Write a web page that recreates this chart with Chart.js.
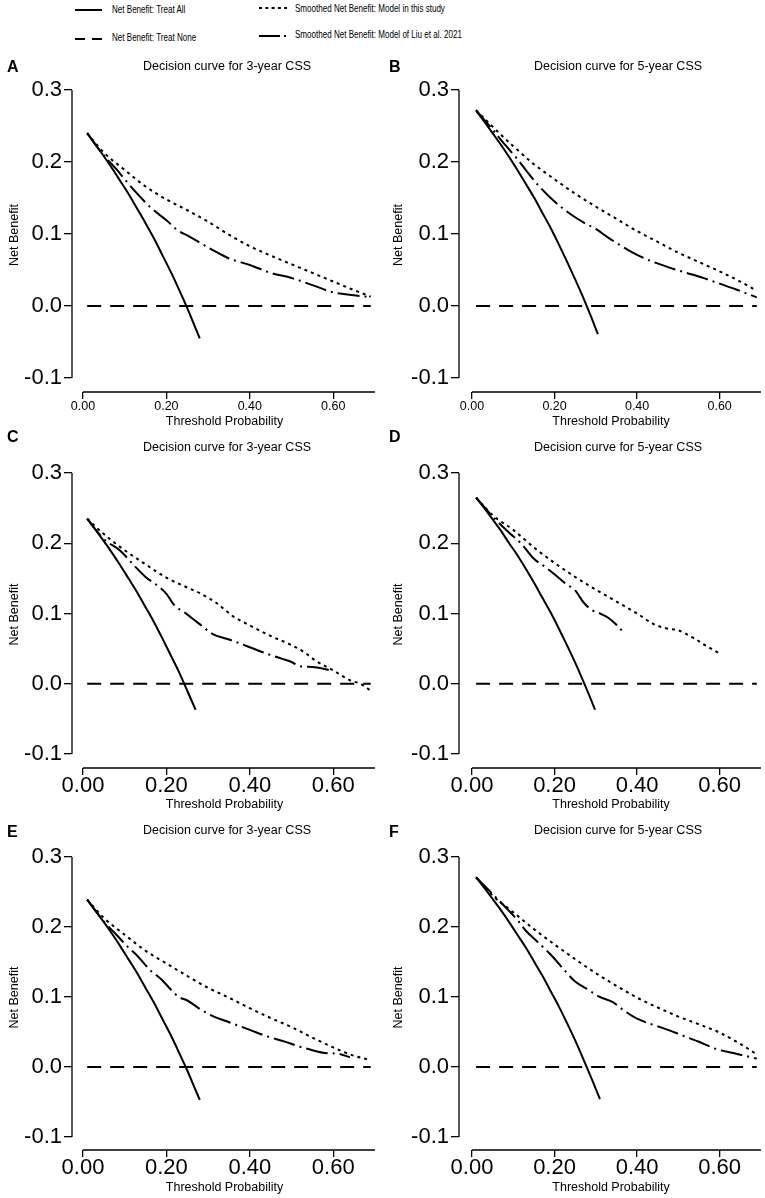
<!DOCTYPE html>
<html>
<head>
<meta charset="utf-8">
<title>Decision curves for CSS</title>
<script src="https://cdn.jsdelivr.net/npm/chart.js@4.4.1/dist/chart.umd.min.js"></script>
<style>
    html, body { margin: 0; padding: 0; background: #fff; overflow: hidden; }
    body { width: 765px; height: 1198px; position: relative; font-family: "Liberation Sans", Arial, Helvetica, sans-serif; color: #000; }
    canvas { position: absolute; }
    .txt { position: absolute; white-space: nowrap; line-height: 1; }
    .legend-text { font-size: 11.5px; transform-origin: left center; transform: scaleX(0.7); }
    .letter { font-size: 16px; font-weight: bold; }
    .ptitle { font-size: 12.5px; transform: translateX(-50%); }
</style>
</head>
<body>
<script>
// Axis ticks
const xTickValues = [0, 0.2, 0.4, 0.6];
const xTickLabels = ['0.00', '0.20', '0.40', '0.60'];
const yTickValues = [-0.1, 0, 0.1, 0.2, 0.3];
const yTickLabels = ['-0.1', '0.0', '0.1', '0.2', '0.3'];

const seriesNames = [
    'Net Benefit: Treat All',
    'Net Benefit: Treat None',
    'Smoothed Net Benefit: Model in this study',
    'Smoothed Net Benefit: Model of Liu et al. 2021'
];

const panelLetters = ['A', 'B', 'C', 'D', 'E', 'F'];
const panelTitles = [
    'Decision curve for 3-year CSS', 'Decision curve for 5-year CSS',
    'Decision curve for 3-year CSS', 'Decision curve for 5-year CSS',
    'Decision curve for 3-year CSS', 'Decision curve for 5-year CSS'
];

// Treat None (same in every panel)
const noneX = [0.01, 0.69];
const noneY = [0, 0];

// Panel A
const allX_A = [0.01, 0.03, 0.05, 0.07, 0.09, 0.11, 0.13, 0.15, 0.17, 0.19, 0.21, 0.23, 0.25, 0.27, 0.28];
const allY_A = [0.240, 0.224, 0.208, 0.191, 0.173, 0.155, 0.135, 0.115, 0.094, 0.071, 0.048, 0.023, -0.003, -0.031, -0.045];
const modelX_A = [0.01, 0.05, 0.10, 0.15, 0.20, 0.25, 0.30, 0.35, 0.40, 0.45, 0.50, 0.55, 0.60, 0.65, 0.69];
const modelY_A = [0.240, 0.213, 0.189, 0.166, 0.148, 0.133, 0.117, 0.099, 0.083, 0.070, 0.058, 0.046, 0.034, 0.022, 0.013];
const liuX_A = [0.01, 0.05, 0.08, 0.10, 0.13, 0.16, 0.20, 0.23, 0.25, 0.28, 0.31, 0.35, 0.40, 0.45, 0.50, 0.55, 0.60, 0.65, 0.69];
const liuY_A = [0.240, 0.209, 0.190, 0.176, 0.156, 0.138, 0.119, 0.104, 0.098, 0.088, 0.078, 0.066, 0.057, 0.046, 0.039, 0.029, 0.019, 0.015, 0.012];

// Panel B
const allX_B = [0.01, 0.03, 0.05, 0.07, 0.09, 0.11, 0.13, 0.15, 0.17, 0.19, 0.21, 0.23, 0.25, 0.27, 0.29, 0.305];
const allY_B = [0.271, 0.256, 0.240, 0.224, 0.207, 0.189, 0.170, 0.151, 0.130, 0.109, 0.086, 0.062, 0.037, 0.011, -0.017, -0.039];
const modelX_B = [0.01, 0.05, 0.10, 0.15, 0.20, 0.25, 0.30, 0.35, 0.40, 0.45, 0.50, 0.55, 0.60, 0.65, 0.69];
const modelY_B = [0.272, 0.249, 0.222, 0.197, 0.176, 0.156, 0.138, 0.121, 0.104, 0.089, 0.074, 0.061, 0.048, 0.034, 0.021];
const liuX_B = [0.01, 0.05, 0.08, 0.11, 0.13, 0.16, 0.20, 0.24, 0.27, 0.30, 0.33, 0.36, 0.40, 0.44, 0.48, 0.52, 0.56, 0.60, 0.64, 0.69];
const liuY_B = [0.272, 0.245, 0.224, 0.204, 0.189, 0.168, 0.145, 0.127, 0.116, 0.107, 0.095, 0.084, 0.071, 0.061, 0.053, 0.046, 0.039, 0.031, 0.023, 0.012];

// Panel C
const allX_C = [0.01, 0.03, 0.05, 0.07, 0.09, 0.11, 0.13, 0.15, 0.17, 0.19, 0.21, 0.23, 0.25, 0.27];
const allY_C = [0.235, 0.219, 0.203, 0.186, 0.168, 0.149, 0.130, 0.109, 0.088, 0.065, 0.041, 0.017, -0.010, -0.037];
const modelX_C = [0.01, 0.05, 0.10, 0.15, 0.20, 0.25, 0.28, 0.32, 0.36, 0.40, 0.45, 0.50, 0.53, 0.56, 0.60, 0.64, 0.665, 0.69];
const modelY_C = [0.235, 0.213, 0.190, 0.170, 0.151, 0.137, 0.129, 0.115, 0.096, 0.083, 0.068, 0.055, 0.045, 0.032, 0.019, 0.005, 0.000, -0.010];
const liuX_C = [0.01, 0.05, 0.09, 0.12, 0.15, 0.18, 0.20, 0.22, 0.24, 0.26, 0.29, 0.31, 0.35, 0.40, 0.44, 0.48, 0.50, 0.52, 0.55, 0.58, 0.60];
const liuY_C = [0.235, 0.206, 0.189, 0.170, 0.152, 0.139, 0.128, 0.111, 0.103, 0.094, 0.080, 0.071, 0.063, 0.052, 0.043, 0.035, 0.031, 0.025, 0.024, 0.021, 0.018];

// Panel D
const allX_D = [0.01, 0.03, 0.05, 0.07, 0.09, 0.11, 0.13, 0.15, 0.17, 0.19, 0.21, 0.23, 0.25, 0.27, 0.29, 0.298];
const allY_D = [0.265, 0.250, 0.234, 0.218, 0.200, 0.183, 0.164, 0.144, 0.123, 0.102, 0.079, 0.055, 0.030, 0.003, -0.025, -0.037];
const modelX_D = [0.01, 0.05, 0.10, 0.15, 0.20, 0.25, 0.30, 0.35, 0.40, 0.44, 0.47, 0.50, 0.54, 0.57, 0.60];
const modelY_D = [0.265, 0.240, 0.219, 0.194, 0.172, 0.152, 0.134, 0.117, 0.100, 0.085, 0.079, 0.076, 0.064, 0.053, 0.043];
const liuX_D = [0.01, 0.05, 0.09, 0.12, 0.15, 0.18, 0.21, 0.23, 0.25, 0.27, 0.29, 0.31, 0.33, 0.35, 0.37];
const liuY_D = [0.265, 0.238, 0.215, 0.199, 0.178, 0.165, 0.151, 0.141, 0.133, 0.116, 0.105, 0.100, 0.094, 0.084, 0.071];

// Panel E
const allX_E = [0.01, 0.03, 0.05, 0.07, 0.09, 0.11, 0.13, 0.15, 0.17, 0.19, 0.21, 0.23, 0.25, 0.27, 0.28];
const allY_E = [0.239, 0.223, 0.207, 0.190, 0.172, 0.153, 0.134, 0.113, 0.092, 0.069, 0.046, 0.021, -0.005, -0.033, -0.047];
const modelX_E = [0.01, 0.05, 0.10, 0.15, 0.20, 0.25, 0.30, 0.35, 0.40, 0.45, 0.50, 0.55, 0.60, 0.65, 0.69];
const modelY_E = [0.239, 0.213, 0.189, 0.166, 0.148, 0.130, 0.113, 0.099, 0.084, 0.070, 0.057, 0.042, 0.028, 0.016, 0.010];
const liuX_E = [0.01, 0.05, 0.08, 0.11, 0.13, 0.16, 0.19, 0.21, 0.23, 0.25, 0.28, 0.31, 0.35, 0.40, 0.44, 0.48, 0.52, 0.55, 0.58, 0.61, 0.64];
const liuY_E = [0.239, 0.208, 0.189, 0.170, 0.159, 0.139, 0.124, 0.111, 0.100, 0.095, 0.083, 0.073, 0.064, 0.053, 0.044, 0.037, 0.029, 0.024, 0.020, 0.019, 0.014];

// Panel F
const allX_F = [0.01, 0.03, 0.05, 0.07, 0.09, 0.11, 0.13, 0.15, 0.17, 0.19, 0.21, 0.23, 0.25, 0.27, 0.29, 0.31];
const allY_F = [0.271, 0.256, 0.240, 0.224, 0.207, 0.189, 0.171, 0.151, 0.131, 0.109, 0.087, 0.063, 0.038, 0.011, -0.017, -0.046];
const modelX_F = [0.01, 0.05, 0.10, 0.15, 0.20, 0.25, 0.30, 0.35, 0.40, 0.45, 0.50, 0.55, 0.60, 0.65, 0.69];
const modelY_F = [0.271, 0.245, 0.221, 0.197, 0.175, 0.154, 0.134, 0.116, 0.099, 0.085, 0.072, 0.061, 0.049, 0.033, 0.018];
const liuX_F = [0.01, 0.05, 0.08, 0.11, 0.13, 0.16, 0.19, 0.22, 0.25, 0.28, 0.31, 0.34, 0.37, 0.40, 0.44, 0.48, 0.51, 0.55, 0.59, 0.64, 0.69];
const liuY_F = [0.271, 0.247, 0.229, 0.210, 0.195, 0.178, 0.161, 0.141, 0.122, 0.111, 0.100, 0.093, 0.080, 0.069, 0.060, 0.052, 0.045, 0.036, 0.026, 0.019, 0.012];

const panelSeries = [
    [[allX_A, allY_A], [noneX, noneY], [modelX_A, modelY_A], [liuX_A, liuY_A]],
    [[allX_B, allY_B], [noneX, noneY], [modelX_B, modelY_B], [liuX_B, liuY_B]],
    [[allX_C, allY_C], [noneX, noneY], [modelX_C, modelY_C], [liuX_C, liuY_C]],
    [[allX_D, allY_D], [noneX, noneY], [modelX_D, modelY_D], [liuX_D, liuY_D]],
    [[allX_E, allY_E], [noneX, noneY], [modelX_E, modelY_E], [liuX_E, liuY_E]],
    [[allX_F, allY_F], [noneX, noneY], [modelX_F, modelY_F], [liuX_F, liuY_F]]
];

// Line styles (R-like lty)
const seriesDash = [[], [14, 9], [3, 4], [22, 5, 2, 5]];
const legendDash = ['', '10 7', '3 3.3', '21 4 2 10'];

// Page geometry
const FONT = '"Liberation Sans", Arial, Helvetica, sans-serif';
const X_AXIS_END = 0.7;
const X_MAX = 0.705;
const columns = [
    { left: 0,   axisX: 72,  x0: 83,  x6: 333, yTitleCx: 15,  titleCx: 227, letterX: 7 },
    { left: 382, axisX: 459, x0: 472, x6: 720, yTitleCx: 399, titleCx: 618, letterX: 389 }
];
const rows = [
    { y3: 90,  ym1: 378,  axisY: 392,  bottom: 436,  tickCy: 407,  xTitleCy: 422,  bigX: false, titleCy: 66,  letterCy: 67 },
    { y3: 473, ym1: 754,  axisY: 768,  bottom: 816,  tickCy: 786,  xTitleCy: 805,  bigX: true,  titleCy: 447, letterCy: 437 },
    { y3: 857, ym1: 1137, axisY: 1150, bottom: 1198, tickCy: 1168, xTitleCy: 1188, bigX: true,  titleCy: 830, letterCy: 832 }
];
const legendPos = [
    { x1: 75,  x2: 102, y: 10, tx: 112, ty: 10 },
    { x1: 75,  x2: 102, y: 39, tx: 112, ty: 38 },
    { x1: 259, x2: 287, y: 8,  tx: 295, ty: 9 },
    { x1: 259, x2: 287, y: 36, tx: 295, ty: 35 }
];

Chart.defaults.font.family = FONT;
Chart.defaults.color = '#000';

// Draws the R style axis lines (only from first to last tick)
const rAxesPlugin = {
    id: 'rAxes',
    afterDraw(chart) {
        const { ctx, chartArea, scales: { x, y } } = chart;
        ctx.save();
        ctx.strokeStyle = '#000';
        ctx.lineWidth = 1.3;
        ctx.beginPath();
        ctx.moveTo(chartArea.left, y.getPixelForValue(yTickValues[0]));
        ctx.lineTo(chartArea.left, y.getPixelForValue(yTickValues[yTickValues.length - 1]));
        ctx.moveTo(x.getPixelForValue(xTickValues[0]), chartArea.bottom);
        ctx.lineTo(x.getPixelForValue(X_AXIS_END), chartArea.bottom);
        ctx.stroke();
        ctx.restore();
    }
};

function addText(cls, text, left, top) {
    const d = document.createElement('div');
    d.className = 'txt ' + cls;
    d.textContent = text;
    d.style.left = left + 'px';
    d.style.top = top + 'px';
    document.body.appendChild(d);
    return d;
}

function drawLegend() {
    const ns = 'http://www.w3.org/2000/svg';
    const svg = document.createElementNS(ns, 'svg');
    svg.setAttribute('width', 765);
    svg.setAttribute('height', 50);
    svg.style.position = 'absolute';
    svg.style.left = '0px';
    svg.style.top = '0px';
    seriesNames.forEach((name, i) => {
        const p = legendPos[i];
        const ln = document.createElementNS(ns, 'line');
        ln.setAttribute('x1', p.x1);
        ln.setAttribute('x2', p.x2);
        ln.setAttribute('y1', p.y);
        ln.setAttribute('y2', p.y);
        ln.setAttribute('stroke', '#000');
        ln.setAttribute('stroke-width', 2);
        if (legendDash[i]) ln.setAttribute('stroke-dasharray', legendDash[i]);
        svg.appendChild(ln);
        addText('legend-text', name, p.tx, p.ty - 5.6);
    });
    document.body.appendChild(svg);
}

function points(xs, ys) {
    return xs.map((x, i) => ({ x: x, y: ys[i] }));
}

function makePanel(i) {
    const col = columns[i % 2];
    const row = rows[Math.floor(i / 2)];
    const ppx = (col.x6 - col.x0) / 0.6;
    const ppy = (row.ym1 - row.y3) / 0.4;
    const xMin = -(col.x0 - col.axisX) / ppx;
    const yMin = -0.1 - (row.axisY - row.ym1) / ppy;
    const yMax = 0.3 + 12 / ppy;
    const padTop = 14;
    const canvasTop = row.y3 - 12 - padTop;
    const chartRight = col.x0 + X_MAX * ppx;
    const width = Math.round(chartRight - col.left);
    const height = row.bottom - canvasTop;
    const yWidth = col.axisX - col.left;
    const xBand = row.bottom - row.axisY;

    const xTickSize = row.bigX ? 22 : 12.5;
    const xTickLen = 7;
    const yTickLen = 8;
    const titleLh = 12.5 * 1.2;

    const canvas = document.createElement('canvas');
    canvas.width = width;
    canvas.height = height;
    canvas.style.left = col.left + 'px';
    canvas.style.top = canvasTop + 'px';
    canvas.style.width = width + 'px';
    canvas.style.height = height + 'px';
    document.body.appendChild(canvas);

    const datasets = panelSeries[i].map((s, k) => ({
        label: seriesNames[k],
        data: points(s[0], s[1]),
        borderColor: '#000',
        borderWidth: 2,
        borderDash: seriesDash[k],
        borderCapStyle: 'butt',
        pointRadius: 0,
        fill: false,
        cubicInterpolationMode: 'monotone'
    }));

    new Chart(canvas, {
        type: 'line',
        data: { datasets: datasets },
        options: {
            responsive: false,
            animation: false,
            events: [],
            layout: { padding: { top: padTop, left: 0, right: 0, bottom: 0 }, autoPadding: false },
            plugins: {
                legend: { display: false },
                tooltip: { enabled: false },
                title: { display: false }
            },
            scales: {
                x: {
                    type: 'linear',
                    min: xMin,
                    max: X_MAX,
                    afterBuildTicks: s => { s.ticks = xTickValues.map(v => ({ value: v })); },
                    afterFit: s => { s.height = xBand; },
                    ticks: {
                        autoSkip: false,
                        maxRotation: 0,
                        color: '#000',
                        padding: row.tickCy - row.axisY - xTickLen - xTickSize / 2,
                        font: { size: xTickSize, lineHeight: 1 },
                        callback: (v, idx) => xTickLabels[idx]
                    },
                    grid: { display: true, drawOnChartArea: false, drawTicks: true, tickLength: xTickLen, color: '#000', lineWidth: 1.3 },
                    border: { display: false },
                    title: {
                        display: true,
                        text: 'Threshold Probability',
                        color: '#000',
                        font: { size: 12.5, lineHeight: 1.2 },
                        padding: { top: 0, bottom: row.bottom - row.xTitleCy - titleLh / 2 }
                    }
                },
                y: {
                    type: 'linear',
                    min: yMin,
                    max: yMax,
                    afterBuildTicks: s => { s.ticks = yTickValues.map(v => ({ value: v })); },
                    afterFit: s => { s.width = yWidth; },
                    ticks: {
                        autoSkip: false,
                        color: '#000',
                        padding: 2,
                        font: { size: 22, lineHeight: 1 },
                        callback: (v, idx) => yTickLabels[idx]
                    },
                    grid: { display: true, drawOnChartArea: false, drawTicks: true, tickLength: yTickLen, color: '#000', lineWidth: 1.3 },
                    border: { display: false },
                    title: {
                        display: true,
                        text: 'Net Benefit',
                        color: '#000',
                        font: { size: 12.5, lineHeight: 1.2 },
                        padding: { top: col.yTitleCx - col.left - titleLh / 2, bottom: 0 }
                    }
                }
            }
        },
        plugins: [rAxesPlugin]
    });

    addText('letter', panelLetters[i], col.letterX, row.letterCy - 8);
    addText('ptitle', panelTitles[i], col.titleCx, row.titleCy - 6);
}

drawLegend();
for (let i = 0; i < 6; i++) makePanel(i);
</script>
</body>
</html>
